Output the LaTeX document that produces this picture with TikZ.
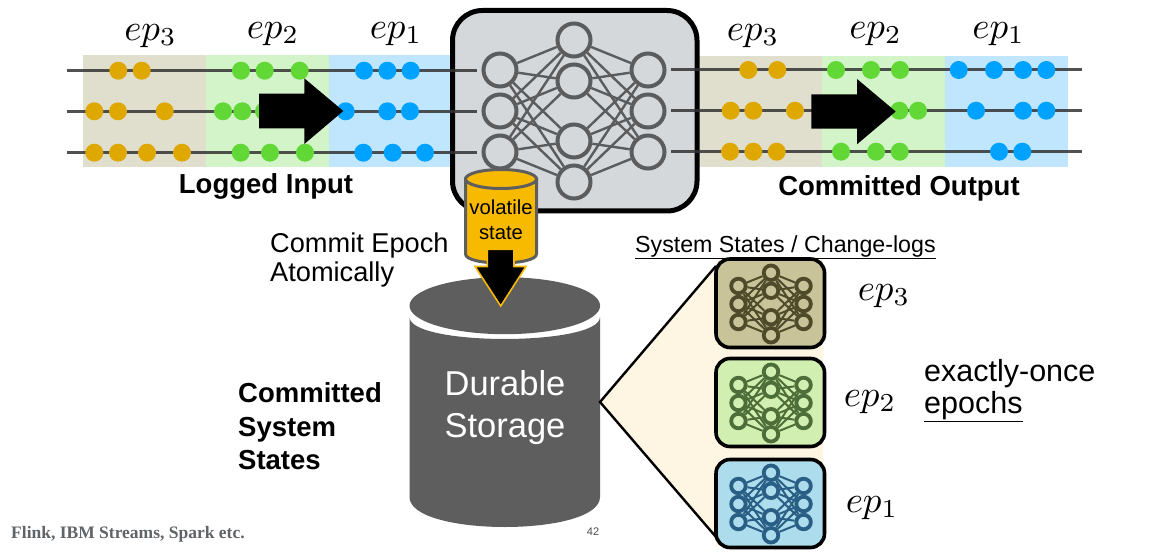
\documentclass[tikz,border=0pt]{standalone}
\usepackage{fontspec}
\setmainfont{Liberation Sans}
\newfontfamily\footfont{Liberation Serif}
\definecolor{ambr}{HTML}{DFA800}
\definecolor{grn}{HTML}{61D836}
\definecolor{blu}{HTML}{00A2FF}
\definecolor{bandA}{HTML}{E0DFCE}
\definecolor{bandB}{HTML}{D3F3C8}
\definecolor{bandC}{HTML}{C0E6FE}
\definecolor{netgrey}{HTML}{5A5C5E}
\definecolor{boxgrey}{HTML}{D5D8DB}
\definecolor{cyl}{HTML}{5E5E5E}
\definecolor{vol}{HTML}{F8BA00}
\definecolor{cream}{HTML}{FEF6E2}
\definecolor{fillA}{HTML}{C9C39A}
\definecolor{fillB}{HTML}{D0EFB0}
\definecolor{fillC}{HTML}{ADDCEC}
\definecolor{netA}{HTML}{4F4A2A}
\definecolor{netB}{HTML}{4D6E39}
\definecolor{netC}{HTML}{2A5F85}
\definecolor{foot}{HTML}{5F6468}
\tikzset{
  x=1pt,y=-1pt,
  logline/.style={line width=3pt,draw=black!80,opacity=.85},
  amberdot/.style={circle,fill=ambr,minimum size=18pt,inner sep=0pt},
  greendot/.style={circle,fill=grn,minimum size=18pt,inner sep=0pt},
  bluedot/.style={circle,fill=blu,minimum size=18pt,inner sep=0pt},
  eplabel/.style={inner sep=0pt},
  bigarrow/.style={fill=black},
  boldlabel/.style={font=\fontsize{27.5}{32}\selectfont\bfseries,inner sep=0pt},
  plainlabel/.style={font=\fontsize{27.2}{28.5}\selectfont,inner sep=0pt,align=left},
  statebox/.style={line width=3.6pt,rounded corners=14pt},
}
\newcommand{\netdraw}[8]{% prefix, cx, cy, scale, colour, fill, stroke width, edge width
  \begin{scope}[shift={(#2,#3)}]
    \foreach \n/\px/\py in {a/-74/-41,b/-74/0,c/-74/41,d/0/-71,e/0/-30,f/0/30,g/0/71,h/74/-41,i/74/0,j/74/41}{
      \node[circle,draw=#5,fill=#6,line width=#7,inner sep=0pt,minimum size={#4*33pt}] (#1\n) at (#4*\px,#4*\py) {};
    }
    \foreach \l in {a,b,c}{\foreach \m in {d,e,f,g}{\draw[draw=#5,line width=#8] (#1\l) -- (#1\m);}}
    \foreach \r in {h,i,j}{\foreach \m in {d,e,f,g}{\draw[draw=#5,line width=#8] (#1\m) -- (#1\r);}}
  \end{scope}
}
\newcommand{\eplab}[1]{\scalebox{3.7}{$ep_{#1}$}}
\begin{document}
\begin{tikzpicture}
\useasboundingbox (0,0) rectangle (1155,553);
\fill[white] (0,0) rectangle (1155,553);
% left bands
\fill[bandA] (83.3,55) rectangle (205.7,166.7);
\fill[bandB] (205.7,55) rectangle (328.7,166.7);
\fill[bandC] (328.7,55) rectangle (452,166.7);
% right bands
\fill[bandA] (698,56) rectangle (822.3,167.3);
\fill[bandB] (822.3,56) rectangle (945,167.3);
\fill[bandC] (945,56) rectangle (1067.7,167.3);
% lines
\coordinate (la) at (67,70.7); \coordinate (lb) at (67,111.3); \coordinate (lc) at (67,152.7);
\coordinate (ra) at (1082,70); \coordinate (rb) at (1082,110.7); \coordinate (rc) at (1082,151.7);
% box
\draw[line width=5pt,fill=boxgrey,rounded corners=30pt] (452.5,10.5) rectangle (697,211);
\coordinate (lae) at (477,70.7); \coordinate (lbe) at (477,111.3); \coordinate (lce) at (477,152.7);
\coordinate (rae) at (671,70); \coordinate (rbe) at (671,110.7); \coordinate (rce) at (671,151.7);
\foreach \p/\q in {la/lae,lb/lbe,lc/lce,ra/rae,rb/rbe,rc/rce}{\draw[logline] (\p) -- (\q);}
% dots
\foreach \x/\y in {118.3/70.7,141.7/70.7,94.3/111.3,118/111.3,164.7/111.3,94.3/152.7,118/152.7,147/152.7,182/152.7,
  748.3/70,777.3/70,730.7/110.7,753.3/110.7,795/110.7,730/151.7,753.3/151.7,776.7/151.7}
  \node[amberdot] at (\x,\y) {};
\foreach \x/\y in {241/70.7,264.7/70.7,299.7/70.7,223/111.3,242.3/111.3,264/111.3,240.7/152.7,270/152.7,305/152.7,
  836/70,871/70,900/70,899.3/110.7,918/110.7,841/151.7,876/151.7,899.7/151.7}
  \node[greendot] at (\x,\y) {};
\foreach \x/\y in {364/70.7,387.3/70.7,410.7/70.7,345.7/111.3,387.3/111.3,410/111.3,363.3/152.7,392.7/152.7,425/152.7,
  958.7/70,994/70,1023/70,1046.3/70,976/110.7,1023/110.7,1046.3/110.7,999/151.7,1022.3/151.7}
  \node[bluedot] at (\x,\y) {};
% arrows
\fill[bigarrow] (259,93.7) -- (304.3,93.7) -- (304.3,78.3) -- (343.3,111) -- (304.3,144) -- (304.3,128.3) -- (259,128.3) -- cycle;
\fill[bigarrow] (811.3,94.3) -- (857,94.3) -- (857,79) -- (895.7,111.5) -- (857,144.3) -- (857,128.7) -- (811.3,128.7) -- cycle;
% main network
\netdraw{m}{574}{111}{1}{netgrey}{boxgrey}{4pt}{2.4pt}
% labels
\node[eplabel] (e3l) at (150.5,36) {\eplab{3}};
\node[eplabel] (e2l) at (273,34) {\eplab{2}};
\node[eplabel] (e1l) at (396,34) {\eplab{1}};
\node[eplabel] (e3r) at (753,36) {\eplab{3}};
\node[eplabel] (e2r) at (875.5,34) {\eplab{2}};
\node[eplabel] (e1r) at (998.5,34) {\eplab{1}};
\node[boldlabel] (li) at (266,186) {Logged Input};
\node[boldlabel] (co) at (899,188) {Committed Output};
% big cylinder
\fill[cyl] (409.5,317) .. controls (409.5,346.3) and (600,346.3) .. (600,317) -- (600,497) .. controls (600,537) and (409.5,537) .. (409.5,497) -- cycle;
\fill[cyl] (504.8,305.7) ellipse[x radius=95.3,y radius=28.5];
\node[font=\fontsize{34.5}{42}\selectfont,text=white,align=center,inner sep=0pt] (ds) at (505,408) {Durable\\Storage};
% volatile cylinder
\draw[line width=3pt,draw=cyl,fill=vol] (465.5,179) -- (465.5,254) .. controls (465.5,266) and (536.5,266) .. (536.5,254) -- (536.5,179) -- cycle;
\draw[line width=3pt,draw=cyl,fill=vol] (501,179) ellipse[x radius=35.5,y radius=9.5];
\node[font=\fontsize{20.3}{25}\selectfont,align=center,inner sep=0pt] (vs) at (501,219.5) {volatile\\state};
\draw[draw=vol,line width=1.6pt,fill=black,miter limit=10] (487.3,249.3) -- (514,249.3) -- (514,266.5) -- (526,266.5) -- (500.7,306) -- (475,266.5) -- (487.3,266.5) -- cycle;
% texts
\node[plainlabel,anchor=west] (ce) at (270,260) {Commit Epoch\\Atomically};
\node[font=\fontsize{23.2}{24}\selectfont,inner sep=0pt,anchor=base west] (ss) at (635,252) {\underline{System States / Change-logs}};
\node[boldlabel,anchor=west,align=left,font=\fontsize{27.5}{33.5}\selectfont\bfseries] (cs) at (238,426.5) {Committed\\System\\States};
\node[font=\fontsize{30.5}{32}\selectfont,inner sep=0pt,align=left,anchor=west] (eo) at (924,391) {exactly-once\\\underline{epochs}};
\node[font=\fontsize{17.5}{20}\selectfont\bfseries\footfont,text=foot,inner sep=0pt,anchor=west] (fl) at (11,534) {Flink, IBM Streams, Spark etc.};
\node[font=\fontsize{11}{12}\selectfont,text=black!70,inner sep=0pt] (pg) at (593,532) {42};
% zoom wedge
\coordinate (tip) at (600,402);
\coordinate (wt) at (716,266); \coordinate (wb) at (716,537);
\fill[cream] (tip) -- (wt) -- (716,260) -- (823,260) -- (823,546) -- (716,546) -- (wb) -- cycle;
\draw[line width=2.4pt] (wt) -- (tip) -- (wb);
% state boxes
\draw[statebox,fill=fillA] (716,259) rectangle (824.5,347.5);
\draw[statebox,fill=fillB] (716,358.5) rectangle (824.5,446.5);
\draw[statebox,fill=fillC] (716,459.5) rectangle (824.5,547.5);
\netdraw{s}{771}{304}{.44}{netA}{fillA}{3.8pt}{2pt}
\netdraw{t}{771}{403}{.44}{netB}{fillB}{3.8pt}{2pt}
\netdraw{u}{771}{504}{.44}{netC}{fillC}{3.8pt}{2pt}
\node[eplabel] (e3s) at (884,296) {\eplab{3}};
\node[eplabel] (e2s) at (870,402) {\eplab{2}};
\node[eplabel] (e1s) at (872,508) {\eplab{1}};
\end{tikzpicture}
\end{document}
